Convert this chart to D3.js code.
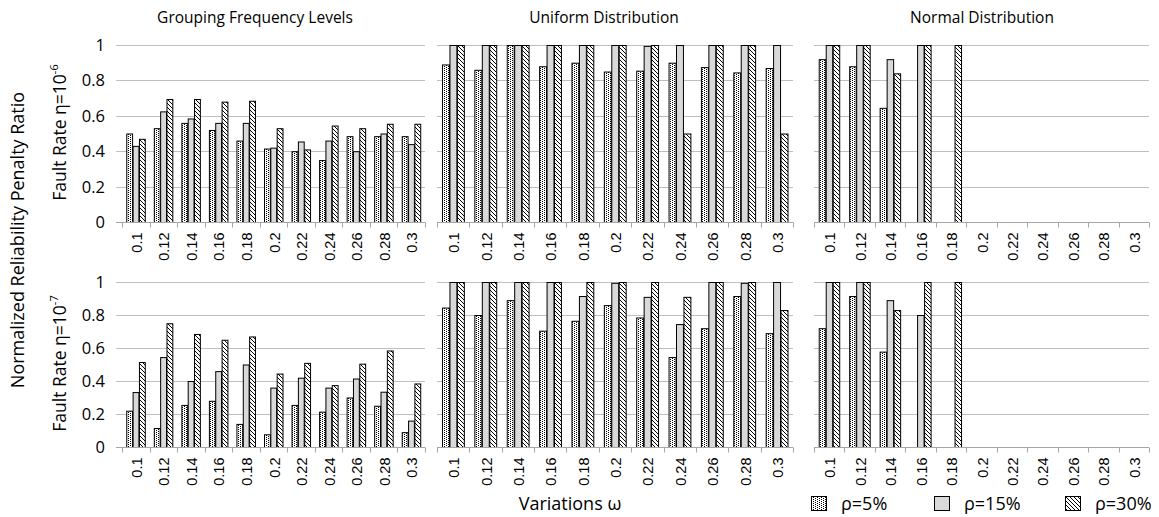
<!DOCTYPE html>
<html>
<head>
<meta charset="utf-8">
<script src="https://cdn.jsdelivr.net/npm/d3@7/dist/d3.min.js"></script>
<style>
  body { margin: 0; background: #fff; }
  svg { display: block; }
</style>
</head>
<body>
<svg id="chart" width="1159" height="517"></svg>
<script>
// categories and labels
const variations = ["0.1", "0.12", "0.14", "0.16", "0.18", "0.2", "0.22", "0.24", "0.26", "0.28", "0.3"];
const seriesNames = ["ρ=5%", "ρ=15%", "ρ=30%"];
const yTicks = [0, 0.2, 0.4, 0.6, 0.8, 1];
const panelTitles = ["Grouping Frequency Levels", "Uniform Distribution", "Normal Distribution"];
const rowExponents = ["-6", "-7"];

// values per panel: [rho5%, rho15%, rho30%]
const groupingE6 = [
  [0.50, 0.53, 0.56, 0.52, 0.46, 0.415, 0.40, 0.35, 0.485, 0.485, 0.485],
  [0.43, 0.625, 0.585, 0.56, 0.56, 0.42, 0.455, 0.46, 0.40, 0.50, 0.44],
  [0.47, 0.695, 0.695, 0.68, 0.685, 0.53, 0.41, 0.545, 0.53, 0.555, 0.555]
];
const uniformE6 = [
  [0.89, 0.86, 1.0, 0.88, 0.90, 0.85, 0.855, 0.90, 0.875, 0.845, 0.87],
  [1.0, 1.0, 1.0, 1.0, 1.0, 1.0, 0.995, 1.0, 1.0, 1.0, 1.0],
  [1.0, 1.0, 1.0, 1.0, 1.0, 1.0, 1.0, 0.50, 1.0, 1.0, 0.50]
];
const normalE6 = [
  [0.92, 0.88, 0.645, null, null, null, null, null, null, null, null],
  [1.0, 1.0, 0.92, 1.0, null, null, null, null, null, null, null],
  [1.0, 1.0, 0.84, 1.0, 1.0, null, null, null, null, null, null]
];
const groupingE7 = [
  [0.22, 0.115, 0.255, 0.28, 0.14, 0.077, 0.255, 0.214, 0.30, 0.25, 0.09],
  [0.333, 0.545, 0.40, 0.46, 0.50, 0.36, 0.42, 0.36, 0.415, 0.335, 0.16],
  [0.515, 0.75, 0.685, 0.65, 0.67, 0.445, 0.51, 0.375, 0.505, 0.585, 0.385]
];
const uniformE7 = [
  [0.845, 0.80, 0.89, 0.705, 0.765, 0.86, 0.785, 0.545, 0.72, 0.915, 0.69],
  [1.0, 1.0, 1.0, 1.0, 0.915, 0.995, 0.91, 0.745, 1.0, 0.995, 1.0],
  [1.0, 1.0, 1.0, 1.0, 1.0, 1.0, 1.0, 0.91, 1.0, 1.0, 0.83]
];
const normalE7 = [
  [0.72, 0.915, 0.578, null, null, null, null, null, null, null, null],
  [1.0, 1.0, 0.89, 0.80, null, null, null, null, null, null, null],
  [1.0, 1.0, 0.83, 1.0, 1.0, null, null, null, null, null, null]
];

const panelData = [
  [groupingE6, uniformE6, normalE6],
  [groupingE7, uniformE7, normalE7]
];

// layout
const colExtents = [[122, 425], [437, 793], [814, 1149]];
const titleX = [255, 604, 982];
const rowExtents = [[45, 222], [282, 447]];
const textFont = "'Open Sans', sans-serif";
const tickFont = "'Liberation Sans', Arial, sans-serif";
const gridColor = "#bfbfbf";

const svg = d3.select("#chart");

// fill patterns
const defs = svg.append("defs");
const dots = defs.append("pattern")
  .attr("id", "pat-dots")
  .attr("patternUnits", "userSpaceOnUse")
  .attr("width", 4).attr("height", 2);
dots.append("rect").attr("width", 4).attr("height", 2).attr("fill", "#fff");
dots.append("rect").attr("x", 0).attr("y", 0).attr("width", 1).attr("height", 1).attr("fill", "#000");
dots.append("rect").attr("x", 2).attr("y", 1).attr("width", 1).attr("height", 1).attr("fill", "#000");

const hatch = defs.append("pattern")
  .attr("id", "pat-hatch")
  .attr("patternUnits", "userSpaceOnUse")
  .attr("width", 4).attr("height", 4);
hatch.append("rect").attr("width", 4).attr("height", 4).attr("fill", "#fff");
hatch.append("path")
  .attr("d", "M-1,-1 L5,5 M-1,3 L1,5 M3,-1 L5,1")
  .attr("stroke", "#000").attr("stroke-width", 1);

const seriesFill = ["url(#pat-dots)", "#d9d9d9", "url(#pat-hatch)"];

// panels
panelData.forEach((row, ri) => {
  const [yTop, yBottom] = rowExtents[ri];
  const y = d3.scaleLinear().domain([0, 1]).range([yBottom, yTop]);

  row.forEach((series, ci) => {
    const [xl, xr] = colExtents[ci];
    const x = d3.scaleBand().domain(variations).range([xl, xr]).paddingInner(0).paddingOuter(0);
    const groupW = x.bandwidth() * 0.69;
    const x1 = d3.scaleBand().domain(d3.range(3)).range([0, groupW]);
    const g = svg.append("g");

    // gridlines (first panel has small tick stubs on the left)
    const stub = ci === 0 ? 6 : 0;
    g.selectAll(".grid")
      .data(yTicks.filter(d => d > 0))
      .enter().append("line")
      .attr("x1", xl - stub).attr("x2", xr)
      .attr("y1", d => Math.round(y(d)) + 0.5).attr("y2", d => Math.round(y(d)) + 0.5)
      .attr("stroke", gridColor).attr("stroke-width", 1);

    // bars
    series.forEach((vals, si) => {
      g.selectAll(".bar-" + si)
        .data(vals.map((v, i) => ({ cat: variations[i], v })).filter(d => d.v !== null))
        .enter().append("rect")
        .attr("x", d => x(d.cat) + (x.bandwidth() - groupW) / 2 + x1(si) + 0.5)
        .attr("y", d => y(d.v) + 0.5)
        .attr("width", x1.bandwidth() - 0.5)
        .attr("height", d => y(0) - y(d.v))
        .attr("fill", seriesFill[si])
        .attr("stroke", "#000").attr("stroke-width", 1);
    });

    // x axis line with boundary ticks
    const y0 = Math.round(y(0)) + 0.5;
    g.append("line")
      .attr("x1", xl - stub).attr("x2", xr)
      .attr("y1", y0).attr("y2", y0)
      .attr("stroke", "#a6a6a6");
    const bounds = variations.map(c => x(c)).concat([xr]);
    g.selectAll(".xtick")
      .data(bounds)
      .enter().append("line")
      .attr("x1", d => Math.round(d) + 0.5).attr("x2", d => Math.round(d) + 0.5)
      .attr("y1", y0).attr("y2", y0 + 5)
      .attr("stroke", "#a6a6a6");

    // rotated category labels
    g.selectAll(".xlabel")
      .data(variations)
      .enter().append("text")
      .attr("transform", d => `translate(${x(d) + x.bandwidth() / 2 + 1},${y0 + 10}) rotate(-90)`)
      .attr("text-anchor", "end")
      .attr("dy", "0.35em")
      .attr("font-family", tickFont)
      .attr("font-size", "14.5px")
      .attr("fill", "#000")
      .text(d => d);

    // y tick labels on the first column only
    if (ci === 0) {
      g.selectAll(".ylabel")
        .data(yTicks)
        .enter().append("text")
        .attr("x", 105)
        .attr("y", d => y(d))
        .attr("dy", "0.36em")
        .attr("text-anchor", "end")
        .attr("font-family", textFont)
        .attr("font-size", "16.5px")
        .attr("fill", "#000")
        .text(d => d3.format("~g")(d));
    }

    // panel title
    if (ri === 0) {
      svg.append("text")
        .attr("x", titleX[ci])
        .attr("y", 23)
        .attr("text-anchor", "middle")
        .attr("font-family", textFont)
        .attr("font-size", "15.5px")
        .attr("fill", "#000")
        .text(panelTitles[ci]);
    }
  });

  // row label
  const rowLabel = svg.append("text")
    .attr("transform", `translate(66,${(yTop + yBottom) / 2 - 1}) rotate(-90)`)
    .attr("text-anchor", "middle")
    .attr("font-family", textFont)
    .attr("font-size", "17.5px")
    .attr("fill", "#000");
  rowLabel.append("tspan").text("Fault Rate η=10");
  rowLabel.append("tspan")
    .attr("font-size", "11px")
    .attr("dy", "-0.7em")
    .text(rowExponents[ri]);
});

// overall y label
svg.append("text")
  .attr("transform", "translate(24,240) rotate(-90)")
  .attr("text-anchor", "middle")
  .attr("font-family", textFont)
  .attr("font-size", "18px")
  .attr("fill", "#000")
  .text("Normalized Reliability Penalty Ratio");

// x axis title
svg.append("text")
  .attr("x", 570)
  .attr("y", 510)
  .attr("text-anchor", "middle")
  .attr("font-family", textFont)
  .attr("font-size", "18px")
  .attr("fill", "#000")
  .text("Variations ω");

// legend
const legendX = [811, 934, 1065];
const legend = svg.selectAll(".legend")
  .data(seriesNames)
  .enter().append("g")
  .attr("transform", (d, i) => `translate(${legendX[i]},496)`);
legend.append("rect")
  .attr("x", 0.5).attr("y", 0.5)
  .attr("width", 15).attr("height", 14)
  .attr("fill", (d, i) => seriesFill[i])
  .attr("stroke", "#000").attr("stroke-width", 1);
legend.append("text")
  .attr("x", 30)
  .attr("y", 14)
  .attr("font-family", textFont)
  .attr("font-size", "18px")
  .attr("fill", "#000")
  .text(d => d);
</script>
</body>
</html>
